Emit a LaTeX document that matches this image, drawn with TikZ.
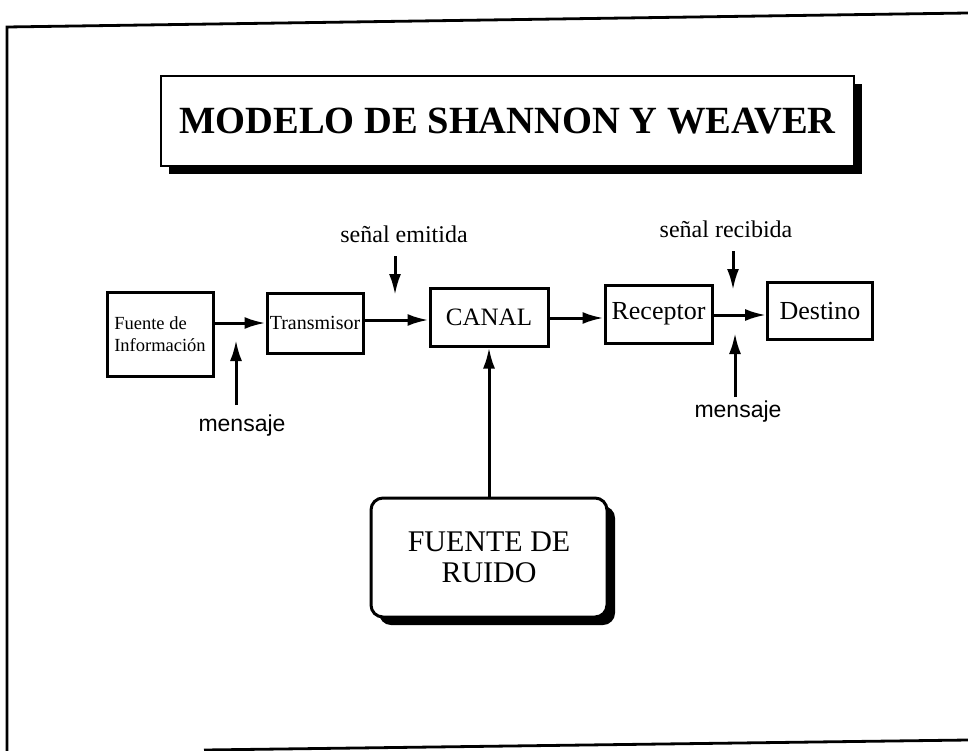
\documentclass[tikz,border=0pt]{standalone}
\usepackage{fontspec}
\setmainfont{Liberation Serif}
\newfontfamily\arialf{Liberation Sans}
\usetikzlibrary{arrows.meta,shadows}
\begin{document}
\begin{tikzpicture}[x=1pt,y=-1pt,
  box/.style={draw, line width=3pt, fill=white, inner sep=0pt},
  arr/.style={line width=3pt, -{Latex[length=21pt,width=12pt]}},
  shadowed/.style={drop shadow={shadow xshift=8pt, shadow yshift=-8pt, fill=black, opacity=1}},
  lbl/.style={inner sep=0pt, font=\fontsize{24}{28}\selectfont},
  msg/.style={inner sep=0pt, font=\arialf\fontsize{23}{27}\selectfont},
  frame/.style={line width=2.8pt}
]
\useasboundingbox (0,0) rectangle (968,751);
% outer frame
\draw[frame] (968,13) -- (7,27) -- (7,751);
\draw[frame] (204,750) -- (968,740);

% title
\node[box, shadowed, line width=2.8pt, minimum width=693pt, minimum height=90pt,
      font=\bfseries\fontsize{38.5}{44}\selectfont] (title) at (507.5,121) {MODELO DE SHANNON Y WEAVER};

% main row
\node[box, minimum width=106pt, minimum height=84pt, align=left,
      font=\fontsize{18.5}{22}\selectfont] (fuente) at (160,334) {Fuente de\\Información};
\node[box, minimum width=96pt, minimum height=60pt, font=\fontsize{20}{24}\selectfont] (trans) at (315,323) {Transmisor};
\node[box, minimum width=118pt, minimum height=58pt, font=\fontsize{25}{30}\selectfont] (canal) at (489,317) {CANAL};
\node[box, minimum width=107pt, minimum height=58pt, font=\fontsize{26}{30}\selectfont] (recep) at (658.5,314) {Receptor};
\node[box, minimum width=105pt, minimum height=57pt, font=\fontsize{26}{30}\selectfont] (dest) at (820,311) {Destino};

% noise source
\node[box, shadowed, rounded corners=12pt, minimum width=236pt, minimum height=119pt, align=center,
      font=\fontsize{30}{31}\selectfont] (ruido) at (489,557.5) {FUENTE DE\\RUIDO};

% labels
\node[lbl] (emit) at (404,234) {señal emitida};
\node[lbl] (recib) at (726,229) {señal recibida};
\node[msg] (msg1) at (242,426) {mensaje};
\node[msg] (msg2) at (738,412) {mensaje};

% free arrow ends
\coordinate (e1) at (395,256);
\coordinate (e2) at (395,295);
\coordinate (r1) at (733,251);
\coordinate (r2) at (733,290);
\coordinate (m1a) at (236,405);
\coordinate (m1b) at (236,340);
\coordinate (m2a) at (735,397);
\coordinate (m2b) at (735,333);

% connectors
\draw[arr] (fuente.east |- 0,323) -- (trans.west |- 0,323);
\draw[arr] (trans.east |- 0,320) -- (canal.west |- 0,320);
\draw[arr] (canal.east |- 0,318) -- (recep.west |- 0,318);
\draw[arr] (recep.east |- 0,315) -- (dest.west |- 0,315);
\draw[arr] (ruido.north) -- (ruido.north |- canal.south);
\draw[arr] (e1) -- (e2);
\draw[arr] (r1) -- (r2);
\draw[arr] (m1a) -- (m1b);
\draw[arr] (m2a) -- (m2b);
\end{tikzpicture}
\end{document}
